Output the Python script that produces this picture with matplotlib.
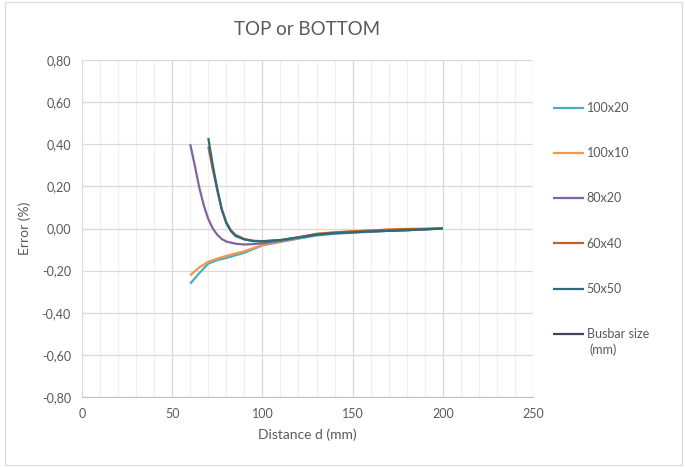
import matplotlib
matplotlib.use("Agg")
import matplotlib.pyplot as plt
from matplotlib.ticker import MultipleLocator, FuncFormatter
from matplotlib.patches import Rectangle

plt.rcParams['font.family'] = ['Lato', 'DejaVu Sans']

# ---- data ----
series_names = ["100x20", "100x10", "80x20", "60x40", "50x50", "Busbar size"]
busbar_unit = "(mm)"
colors = ["#4BACC6", "#F79646", "#8064A2", "#C0602A", "#2A6B7C", "#4B3B63"]

x_100x20 = [60, 65, 70, 75, 80, 90, 100, 110, 120, 130, 140, 150, 160, 170, 180, 190, 200]
y_100x20 = [-0.262, -0.212, -0.167, -0.150, -0.140, -0.115, -0.080, -0.064, -0.048, -0.033,
            -0.025, -0.020, -0.015, -0.011, -0.008, -0.004, 0.000]

x_100x10 = [60, 65, 70, 75, 80, 90, 100, 110, 120, 130, 140, 150, 160, 170, 180, 190, 200]
y_100x10 = [-0.222, -0.185, -0.158, -0.143, -0.130, -0.108, -0.078, -0.061, -0.044, -0.025,
            -0.018, -0.013, -0.009, -0.005, -0.002, -0.001, 0.000]

x_80x20 = [60, 62.5, 65, 67.5, 70, 72.5, 75, 77.5, 80, 85, 90, 95, 100, 110, 120, 130, 140, 150,
           160, 170, 180, 190, 200]
y_80x20 = [0.400, 0.300, 0.195, 0.110, 0.045, 0.000, -0.030, -0.050, -0.062, -0.072, -0.076,
           -0.074, -0.070, -0.058, -0.043, -0.030, -0.022, -0.018, -0.014, -0.011, -0.008, -0.004, 0.000]

x_60x40 = [70, 72.5, 75, 77.5, 80, 82.5, 85, 90, 95, 100, 110, 120, 130, 140, 150, 160, 170, 180, 190, 200]
y_60x40 = [0.390, 0.280, 0.180, 0.090, 0.030, -0.008, -0.030, -0.050, -0.058, -0.060, -0.055, -0.042,
           -0.026, -0.019, -0.014, -0.010, -0.006, -0.003, -0.002, 0.000]

x_50x50 = [70, 72.5, 75, 77.5, 80, 82.5, 85, 90, 95, 100, 110, 120, 130, 140, 150, 160, 170, 180, 190, 200]
y_50x50 = [0.430, 0.300, 0.188, 0.090, 0.025, -0.012, -0.035, -0.052, -0.060, -0.061, -0.055, -0.042,
           -0.029, -0.022, -0.018, -0.014, -0.011, -0.008, -0.004, 0.000]

x_busbar = []
y_busbar = []

xs = [x_100x20, x_100x10, x_80x20, x_60x40, x_50x50, x_busbar]
ys = [y_100x20, y_100x10, y_80x20, y_60x40, y_50x50, y_busbar]

title = "TOP or BOTTOM"
xlabel = "Distance d (mm)"
ylabel = "Error (%)"

# ---- figure ----
fig = plt.figure(figsize=(6.85, 4.67), dpi=100)
fig.patches.append(Rectangle((5 / 685, 2 / 467), 677 / 685, 463 / 467, transform=fig.transFigure,
                             fill=False, edgecolor="#D9D9D9", linewidth=0.8))
ax = fig.add_axes([82 / 685, 1 - 397 / 467, (533 - 82) / 685, (397 - 60) / 467])

for x, y, c, n in zip(xs, ys, colors, series_names):
    ax.plot(x, y, color=c, linewidth=1.6, label=n, solid_capstyle='butt', solid_joinstyle='round')

ax.set_xlim(0, 250)
ax.set_ylim(-0.8, 0.8)
ax.xaxis.set_major_locator(MultipleLocator(50))
ax.xaxis.set_minor_locator(MultipleLocator(10))
ax.yaxis.set_major_locator(MultipleLocator(0.2))
ax.yaxis.set_major_formatter(FuncFormatter(lambda v, p: f"{v:.2f}".replace(".", ",").replace("-0,00", "0,00")))
ax.grid(which='major', color="#D9D9D9", linewidth=0.9)
ax.grid(which='minor', axis='x', color="#F0F0F0", linewidth=0.9)
ax.set_axisbelow(True)
for s in ['top', 'right', 'left']:
    ax.spines[s].set_visible(False)
ax.spines['bottom'].set_color("#BFBFBF")
ax.tick_params(which='both', length=0, labelsize=9, colors="#595959", pad=8)

ax.set_title(title, fontsize=13.5, color="#595959", pad=18)
ax.set_xlabel(xlabel, fontsize=10, color="#595959", labelpad=6)
ax.set_ylabel(ylabel, fontsize=10, color="#595959", labelpad=8)

leg = ax.legend(loc='upper left', bbox_to_anchor=(548 / 685, 1 - 97 / 467), bbox_transform=fig.transFigure,
                frameon=False, fontsize=9, labelspacing=2.66, handlelength=2.5, handletextpad=0.2,
                borderaxespad=0)
for t in leg.get_texts():
    t.set_color("#595959")

# second line of the last legend label, placed under its first line
fig.canvas.draw()
bb = leg.get_texts()[-1].get_window_extent()
fig.text((bb.x0 + 3) / 685, (bb.y0 - 16) / 467, busbar_unit, fontsize=9, color="#595959",
         ha='left', va='bottom')

fig.savefig("out.png", dpi=100)
